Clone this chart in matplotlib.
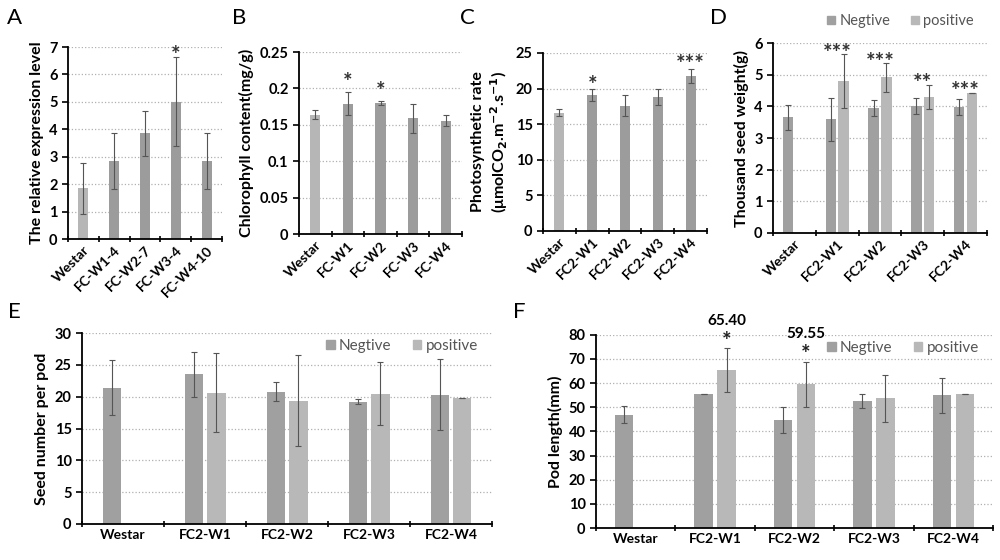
import numpy as np
import matplotlib
matplotlib.use('Agg')
import matplotlib.pyplot as plt
from matplotlib.patches import Patch

plt.rcParams['font.family'] = ['Lato', 'DejaVu Sans']
plt.rcParams['font.weight'] = 'bold'
plt.rcParams['axes.labelweight'] = 'bold'

# ---- data ----
a_labels = ['Westar', 'FC-W1-4', 'FC-W2-7', 'FC-W3-4', 'FC-W4-10']
a_vals = [1.85, 2.85, 3.85, 5.0, 2.85]
a_err = [0.93, 1.02, 0.83, 1.62, 1.02]
a_sig = ['', '', '', '*', '']

b_labels = ['Westar', 'FC-W1', 'FC-W2', 'FC-W3', 'FC-W4']
b_vals = [0.164, 0.179, 0.180, 0.159, 0.156]
b_err = [0.006, 0.016, 0.003, 0.020, 0.007]
b_sig = ['', '*', '*', '', '']

lines = ['Westar', 'FC2-W1', 'FC2-W2', 'FC2-W3', 'FC2-W4']
c_vals = [16.6, 19.1, 17.6, 18.8, 21.8]
c_err = [0.5, 0.8, 1.5, 1.1, 1.0]
c_sig = ['', '*', '', '', '***']

d_neg = [3.65, 3.6, 3.95, 4.0, 3.97]
d_neg_err = [0.4, 0.68, 0.25, 0.25, 0.25]
d_pos = [np.nan, 4.8, 4.92, 4.3, 4.43]
d_pos_err = [0, 0.85, 0.45, 0.38, 0]
d_sig = ['', '***', '***', '**', '***']

e_neg = [21.4, 23.5, 20.8, 19.2, 20.3]
e_neg_err = [4.3, 3.5, 1.5, 0.4, 5.6]
e_pos = [np.nan, 20.6, 19.4, 20.5, 19.8]
e_pos_err = [0, 6.2, 7.2, 5.0, 0]

f_neg = [47.0, 55.5, 44.8, 52.5, 55.0]
f_neg_err = [3.5, 0, 5.3, 2.8, 7.2]
f_pos = [np.nan, 65.4, 59.55, 53.8, 55.7]
f_pos_err = [0, 9.0, 9.3, 9.7, 0]
f_sig = ['', '*', '*', '', '']
f_note = ['', '65.40', '59.55', '', '']

W_COL = '#b6b6b6'
DARK = '#9c9c9c'
NEG = '#a0a0a0'
POS = '#b8b8b8'
ERR = dict(ecolor='#555555', elinewidth=0.8, capsize=2.5, capthick=0.8)
LEG = dict(handlelength=0.55, handleheight=0.55, handletextpad=0.3, frameon=False, ncol=2,
           labelcolor='#555555')

fig = plt.figure(figsize=(10, 5.6), dpi=100)


def style(ax, ymax, step, fmt=None):
    ax.set_ylim(0, ymax)
    ax.set_yticks(np.arange(0, ymax + step / 2, step))
    if fmt:
        ax.set_yticklabels([fmt(v) for v in np.arange(0, ymax + step / 2, step)])
    ax.yaxis.grid(True, linestyle=':', color='#b0b0b0', linewidth=0.9)
    ax.set_axisbelow(True)
    for s in ['top', 'right']:
        ax.spines[s].set_visible(False)
    ax.spines['left'].set_linewidth(1.3)
    ax.spines['bottom'].set_linewidth(1.3)
    n = 5
    ax.set_xlim(-0.5, n - 0.5)
    ax.set_xticks(range(n))
    ax.set_xticks(np.arange(-0.5, n, 1), minor=True)
    ax.tick_params(axis='x', which='major', length=0)
    ax.tick_params(axis='x', which='minor', length=4, width=1.2, direction='inout')
    ax.tick_params(axis='y', length=4, width=1.2, labelsize=10.5)
    ax.tick_params(axis='x', labelsize=10)


def single(rect, labels, vals, err, sig, ymax, step, ylabel, width, off, fmt=None):
    ax = fig.add_axes(rect)
    x = np.arange(len(vals))
    cols = [W_COL] + [DARK] * (len(vals) - 1)
    ax.bar(x, vals, width=width, color=cols, yerr=err, error_kw=ERR, zorder=2)
    style(ax, ymax, step, fmt)
    ax.set_xticklabels(labels, rotation=45, ha='right', rotation_mode='anchor')
    for i, s in enumerate(sig):
        if s:
            ax.text(i, vals[i] + err[i] + off, s, ha='center', va='bottom', fontsize=16,
                    color='#333333', clip_on=False)
    ax.set_ylabel(ylabel, fontsize=11.5, fontweight='bold')
    return ax


def grouped(rect, neg, neg_err, pos, pos_err, ymax, step, ylabel, width, shift, rot):
    ax = fig.add_axes(rect)
    x = np.arange(len(neg))
    ax.bar(x - shift, neg, width=width, color=NEG, yerr=neg_err, error_kw=ERR,
           zorder=2, label='Negtive')
    ax.bar(x + shift, pos, width=width, color=POS, yerr=pos_err, error_kw=ERR,
           zorder=2, label='positive')
    style(ax, ymax, step)
    if rot:
        ax.set_xticklabels(lines, rotation=45, ha='right', rotation_mode='anchor')
    else:
        ax.set_xticklabels(lines)
    ax.set_ylabel(ylabel, fontsize=11.5, fontweight='bold')
    return ax


# A
single([0.068, 0.573, 0.154, 0.343], a_labels, a_vals, a_err, a_sig, 7, 1,
       'The relative expression level', 0.33, -0.3)
# B
single([0.299, 0.582, 0.163, 0.325], b_labels, b_vals, b_err, b_sig, 0.25, 0.05,
       'Chlorophyll content(mg/g)', 0.31, -0.001,
       fmt=lambda v: '0' if v == 0 else ('%.2f' % v).rstrip('0'))
# C
single([0.543, 0.5875, 0.164, 0.318], lines, c_vals, c_err, c_sig, 25, 5,
       'Photosynthetic rate\n(μmolCO$_2$.m$^{-2}$.s$^{-1}$)', 0.3, -0.9)

# D
axd = grouped([0.773, 0.584, 0.214, 0.339], d_neg, d_neg_err, d_pos, d_pos_err, 6, 1,
              'Thousand seed weight(g)', 0.24, 0.15, True)
for i, s in enumerate(d_sig):
    if s:
        top = max(d_neg[i] + d_neg_err[i],
                  (d_pos[i] + d_pos_err[i]) if not np.isnan(d_pos[i]) else 0)
        axd.text(i, top - 0.3, s, ha='center', va='bottom', fontsize=16, color='#333333',
                 clip_on=False)
axd.legend(handles=[Patch(color=NEG), Patch(color=POS)], labels=['Negtive', 'positive'],
           loc='lower right', bbox_to_anchor=(1.0, 1.01), columnspacing=1.4,
           prop={'weight': 'normal', 'size': 10.5}, **LEG)

# E
axe = grouped([0.082, 0.0643, 0.41, 0.341], e_neg, e_neg_err, e_pos, e_pos_err, 30, 5,
              'Seed number per pod', 0.22, 0.14, False)
axe.legend(handles=[Patch(color=NEG), Patch(color=POS)], labels=['Negtive', 'positive'],
           loc='upper right', bbox_to_anchor=(1.0, 1.04), columnspacing=1.4,
           prop={'weight': 'normal', 'size': 11}, **LEG)

# F
axf = grouped([0.596, 0.0571, 0.397, 0.345], f_neg, f_neg_err, f_pos, f_pos_err, 80, 10,
              'Pod length(mm)', 0.23, 0.145, False)
for i, s in enumerate(f_sig):
    if s:
        top = f_pos[i] + f_pos_err[i]
        axf.text(i + 0.145, top - 1.5, s, ha='center', va='bottom', fontsize=16,
                 color='#222222', clip_on=False)
        axf.text(i + 0.145, top + 8.5, f_note[i], ha='center', va='bottom', fontsize=11,
                 clip_on=False)
axf.legend(handles=[Patch(color=NEG), Patch(color=POS)], labels=['Negtive', 'positive'],
           loc='upper right', bbox_to_anchor=(1.0, 1.04), columnspacing=1.4,
           prop={'weight': 'normal', 'size': 11}, **LEG)

# panel letters
for lx, ly, letter in [(0.007, 0.985, 'A'), (0.232, 0.985, 'B'), (0.46, 0.985, 'C'),
                       (0.71, 0.985, 'D'), (0.008, 0.46, 'E'), (0.513, 0.46, 'F')]:
    fig.text(lx, ly, letter, fontsize=16, fontweight='normal', va='top')

fig.savefig('out.png', dpi=100)
